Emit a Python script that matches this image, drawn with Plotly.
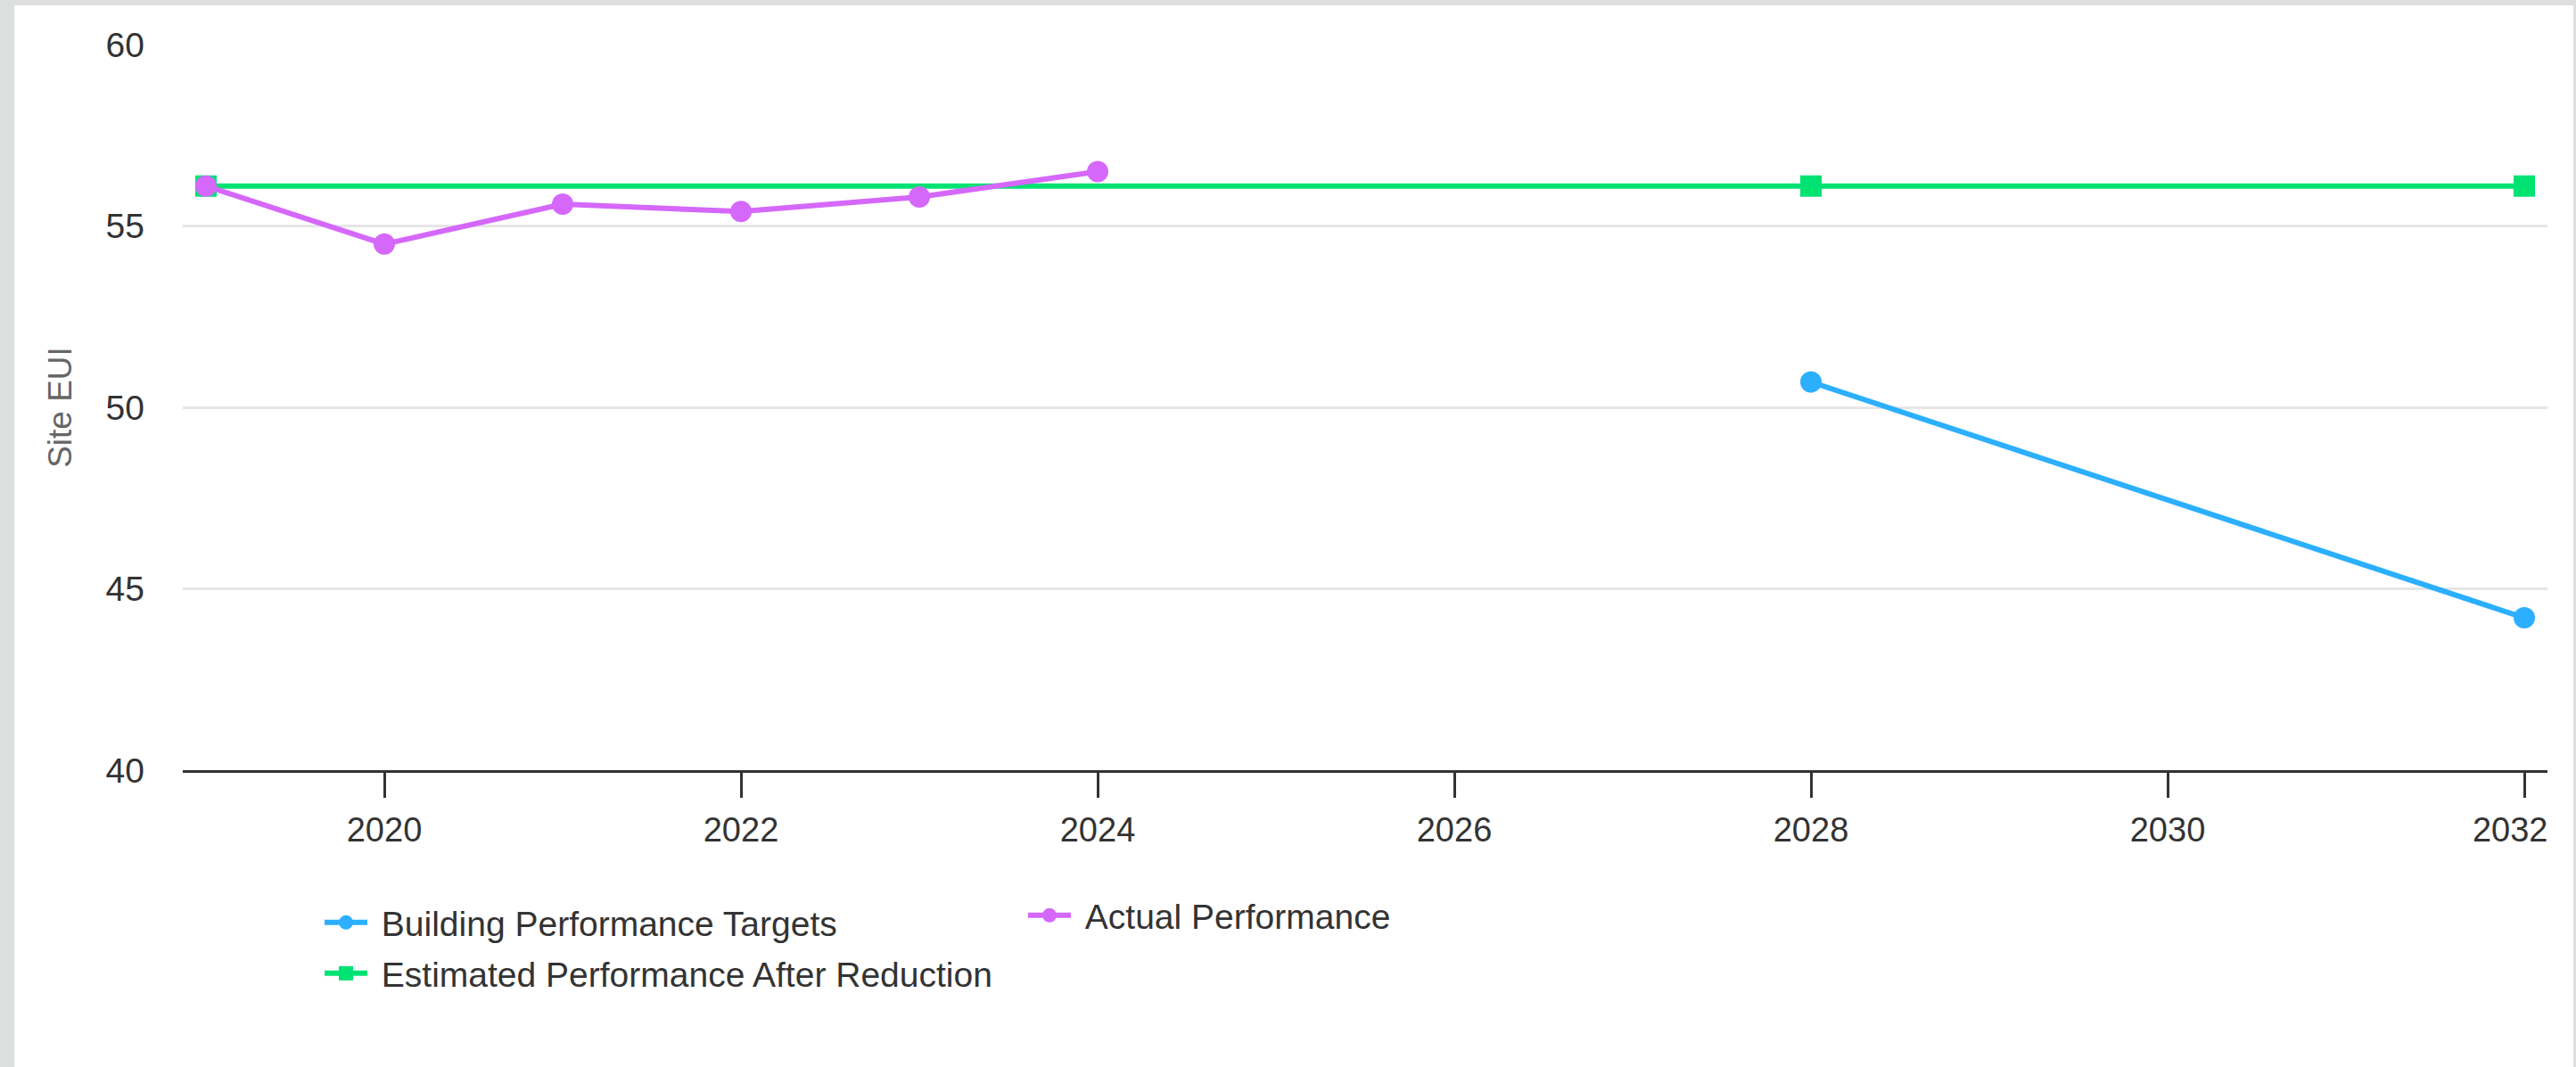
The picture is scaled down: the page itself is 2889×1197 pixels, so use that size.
import plotly.graph_objects as go

# Site EUI series
target_years = [2028, 2032]
target_eui = [50.7, 44.2]

actual_years = [2019, 2020, 2021, 2022, 2023, 2024]
actual_eui = [56.1, 54.5, 55.6, 55.4, 55.8, 56.5]

reduction_years = [2019, 2028, 2032]
reduction_eui = [56.1, 56.1, 56.1]

x_ticks = [2020, 2022, 2024, 2026, 2028, 2030, 2032]
y_ticks = [40, 45, 50, 55, 60]

BLUE = "#2caffe"
PURPLE = "#d568fb"
GREEN = "#00e272"
FONT = "Liberation Sans, Arial, Helvetica, sans-serif"
GAP = "\u00a0"  # extra room between legend symbol and label

# the last year label is nudged left so it stays inside the chart edge
x_tick_text = [str(v) for v in x_ticks[:-1]] + [str(x_ticks[-1]) + GAP * 3]

W, H = 2889, 1197
ML, MR, MT, MB = 205, 32, 50, 333
PW, PH = W - ML - MR, H - MT - MB


def px_to_paper_x(px):
    return (px - ML) / PW


def px_to_paper_y(py):
    return (H - MB - py) / PH


fig = go.Figure()

fig.add_trace(go.Scatter(
    x=target_years, y=target_eui, mode="lines+markers",
    name=GAP + "Building Performance Targets",
    line=dict(color=BLUE, width=6),
    marker=dict(color=BLUE, size=24, symbol="circle"),
    legend="legend",
))
fig.add_trace(go.Scatter(
    x=reduction_years, y=reduction_eui, mode="lines+markers",
    name=GAP + "Estimated Performance After Reduction",
    line=dict(color=GREEN, width=6),
    marker=dict(color=GREEN, size=24, symbol="square"),
    legend="legend3",
))
fig.add_trace(go.Scatter(
    x=actual_years, y=actual_eui, mode="lines+markers",
    name=GAP + "Actual Performance",
    line=dict(color=PURPLE, width=6),
    marker=dict(color=PURPLE, size=24, symbol="circle"),
    legend="legend2",
))

legend_common = dict(
    orientation="h", xref="container", yref="container",
    xanchor="left", yanchor="middle",
    font=dict(family=FONT, size=39, color="#333333"),
    bgcolor="rgba(0,0,0,0)", itemwidth=48,
)

fig.update_layout(
    width=W, height=H,
    margin=dict(l=ML, r=MR, t=MT, b=MB, pad=0, autoexpand=False),
    paper_bgcolor="#dcdfde",
    plot_bgcolor="rgba(0,0,0,0)",
    font=dict(family=FONT, size=38, color="#333333"),
    showlegend=True,
    legend=dict(x=359 / W, y=1 - 1035 / H, **legend_common),
    legend2=dict(x=1148 / W, y=1 - 1027 / H, **legend_common),
    legend3=dict(x=359 / W, y=1 - 1092 / H, **legend_common),
    xaxis=dict(
        range=[2018.87, 2032.13],
        tickvals=x_ticks, ticktext=x_tick_text,
        ticklabeloverflow="allow", automargin=False,
        showgrid=False, zeroline=False,
        showline=True, linecolor="#333333", linewidth=3,
        ticks="outside", ticklen=28, tickwidth=3, tickcolor="#333333",
        tickfont=dict(family=FONT, size=38, color="#333333"),
        ticklabelstandoff=3,
    ),
    yaxis=dict(
        range=[40, 60],
        tickvals=y_ticks, automargin=False,
        showgrid=True, gridcolor="#e6e6e6", gridwidth=3,
        zeroline=False, showline=False,
        tickfont=dict(family=FONT, size=39, color="#333333"),
        ticklabelstandoff=42,
        title=dict(text="Site EUI", standoff=26,
                   font=dict(family=FONT, size=37, color="#666666")),
    ),
    shapes=[dict(
        type="rect", xref="paper", yref="paper", layer="below",
        x0=px_to_paper_x(16), x1=px_to_paper_x(2886),
        y0=px_to_paper_y(1197 + 5), y1=px_to_paper_y(6),
        fillcolor="white", line=dict(width=0),
    )],
)

fig.write_html("out.html")
